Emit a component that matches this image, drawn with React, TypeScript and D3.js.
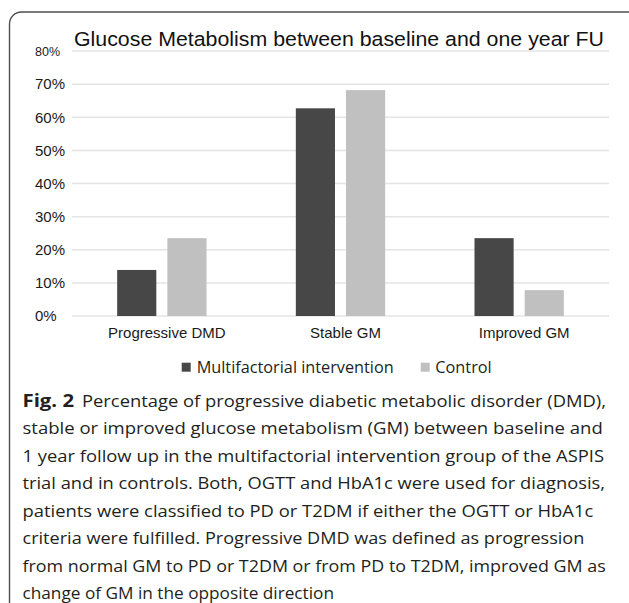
import React from "react";
import * as d3 from "d3";

const categories = ["Progressive DMD", "Stable GM", "Improved GM"];
const seriesNames = ["Multifactorial intervention", "Control"];
const interventionValues = [13.9, 62.7, 23.5];
const controlValues = [23.5, 68.2, 7.8];
const yTicks = [0, 10, 20, 30, 40, 50, 60, 70, 80];
const titleText = "Glucose Metabolism between baseline and one year FU";
const captionLead = "Fig. 2";
const captionLines = [
  "Percentage of progressive diabetic metabolic disorder (DMD),",
  "stable or improved glucose metabolism (GM) between baseline and",
  "1 year follow up in the multifactorial intervention group of the ASPIS",
  "trial and in controls. Both, OGTT and HbA1c were used for diagnosis,",
  "patients were classified to PD or T2DM if either the OGTT or HbA1c",
  "criteria were fulfilled. Progressive DMD was defined as progression",
  "from normal GM to PD or T2DM or from PD to T2DM, improved GM as",
  "change of GM in the opposite direction",
];
const captionLineEnds = [606, 602.7, 604, 605, 593.3, 584.3, 605.7, 334];

const COLORS = ["#474747", "#c0c0c0"];
const W = 629;
const H = 603;

export default function App() {
  const y = d3.scaleLinear().domain([0, 80]).range([316, 51]);
  const x0 = d3
    .scaleBand<string>()
    .domain(categories)
    .range([72.5, 608.5])
    .paddingInner(0.5)
    .paddingOuter(0.25);
  const x1 = d3
    .scaleBand<string>()
    .domain(seriesNames)
    .range([0, x0.bandwidth()])
    .paddingInner(0.22)
    .paddingOuter(0);
  const series = [interventionValues, controlValues];
  const fmt = (v: number) => `${v}%`;
  const chartFont = "'Liberation Sans', Arial, sans-serif";
  const capFont = "'Open Sans', 'Noto Sans', sans-serif";
  const capX = 22.5;
  const capBase = 406.5;
  const capStep = 27.5;

  return (
    <svg
      width={W}
      height={H}
      viewBox={`0 0 ${W} ${H}`}
      style={{ position: "absolute", left: 0, top: 0, background: "#fff" }}
    >
      <rect x={0} y={0} width={W} height={H} fill="#fff" />
      <rect
        x={9.5}
        y={12}
        width={W + 40}
        height={H + 40}
        rx={12}
        ry={12}
        fill="none"
        stroke="#4f4f4f"
        strokeWidth={1.4}
      />
      <text
        x={74}
        y={46}
        fontFamily={chartFont}
        fontSize={20.5}
        fill="#111"
        textLength={530}
        lengthAdjust="spacingAndGlyphs"
      >
        {titleText}
      </text>
      {yTicks.map((t) => (
        <line
          key={`g${t}`}
          x1={72}
          x2={609}
          y1={y(t)}
          y2={y(t)}
          stroke="#e4e4e4"
          strokeWidth={1.5}
        />
      ))}
      {yTicks.map((t) => {
        const small = t === 80;
        return (
          <text
            key={`t${t}`}
            x={35}
            y={y(t) + (small ? 4.8 : 5.3)}
            fontFamily={chartFont}
            fontSize={small ? 12.5 : 15}
            fill="#1a1a1a"
          >
            {fmt(t)}
          </text>
        );
      })}
      {categories.map((c, ci) =>
        series.map((vals, si) => (
          <rect
            key={`${c}-${si}`}
            x={(x0(c) ?? 0) + (x1(seriesNames[si]) ?? 0)}
            y={y(vals[ci])}
            width={x1.bandwidth()}
            height={y(0) - y(vals[ci])}
            fill={COLORS[si]}
          />
        ))
      )}
      {categories.map((c) => (
        <text
          key={`c${c}`}
          x={(x0(c) ?? 0) + x0.bandwidth() / 2 + 5}
          y={337.5}
          textAnchor="middle"
          fontFamily={chartFont}
          fontSize={15}
          fill="#1a1a1a"
        >
          {c}
        </text>
      ))}
      <rect x={181.7} y={362.7} width={9} height={9} fill={COLORS[0]} />
      <text
        x={196.7}
        y={372.5}
        fontFamily={capFont}
        fontSize={15.5}
        fill="#231f20"
        textLength={197}
        lengthAdjust="spacingAndGlyphs"
      >
        {seriesNames[0]}
      </text>
      <rect x={420.7} y={362.7} width={9} height={9} fill={COLORS[1]} />
      <text
        x={435.3}
        y={372.5}
        fontFamily={capFont}
        fontSize={15.5}
        fill="#231f20"
        textLength={56.4}
        lengthAdjust="spacingAndGlyphs"
      >
        {seriesNames[1]}
      </text>
      <text
        x={capX}
        y={capBase}
        fontFamily={capFont}
        fontWeight={700}
        fontSize={17}
        fill="#231f20"
        textLength={51.5}
        lengthAdjust="spacingAndGlyphs"
      >
        {captionLead}
      </text>
      {captionLines.map((line, i) => {
        const start = i === 0 ? 82 : capX;
        return (
          <text
            key={`cap${i}`}
            x={start}
            y={capBase + i * capStep}
            fontFamily={capFont}
            fontSize={16}
            fill="#231f20"
            textLength={captionLineEnds[i] - start}
            lengthAdjust="spacingAndGlyphs"
          >
            {line}
          </text>
        );
      })}
    </svg>
  );
}
